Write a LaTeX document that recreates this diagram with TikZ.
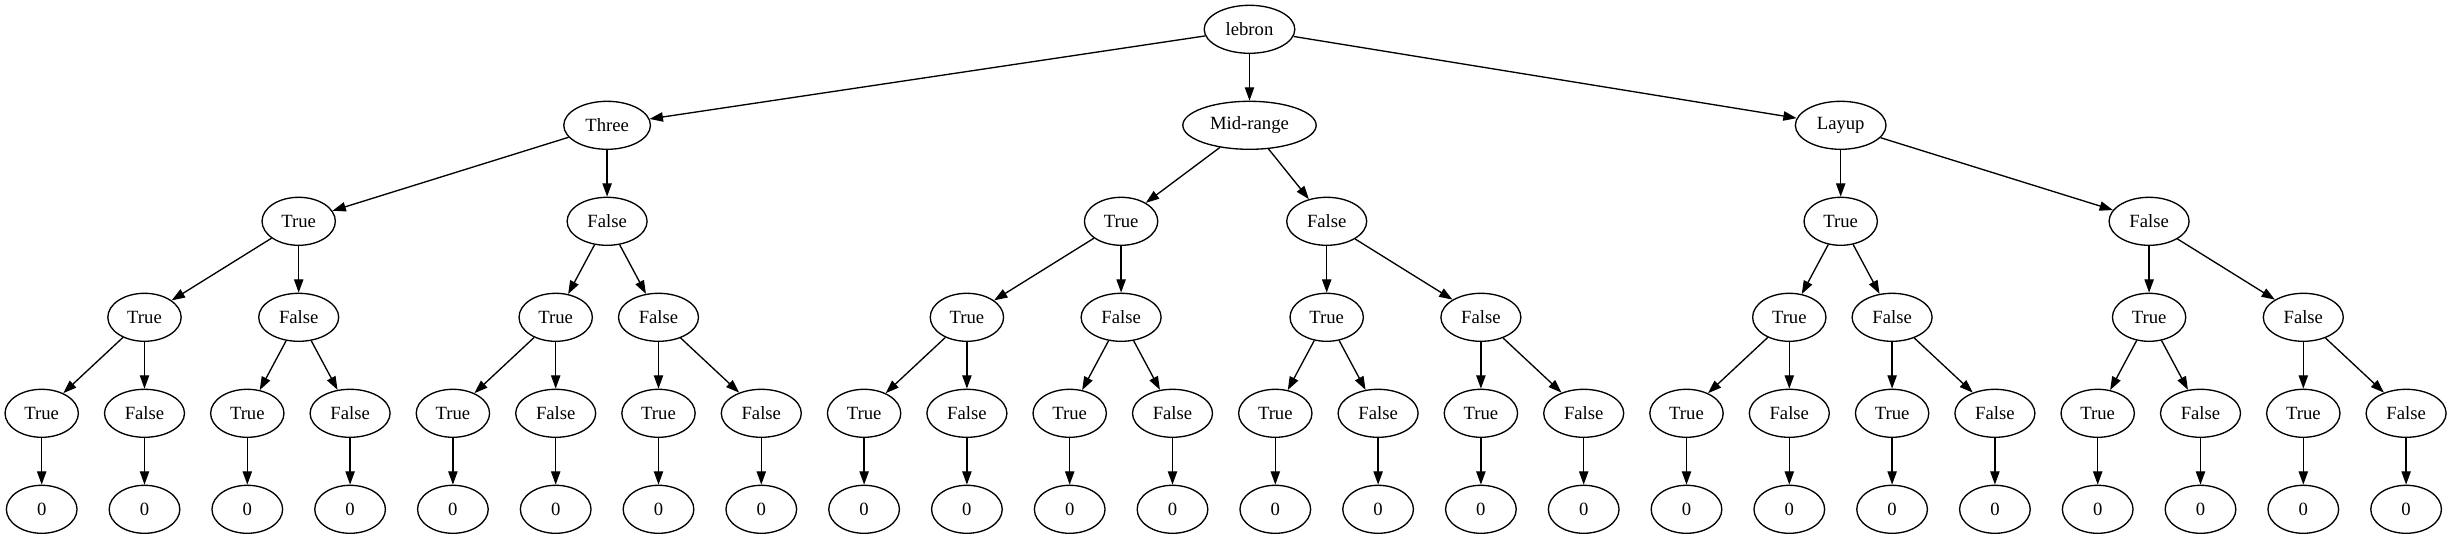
\documentclass[tikz,border=0pt]{standalone}
\usepackage{fontspec}
\setmainfont{Liberation Serif}
\usetikzlibrary{shapes.geometric,arrows.meta}
\begin{document}
\begin{tikzpicture}[x=0.75pt,y=-0.75pt,
  gv/.style={ellipse,draw,line width=1pt,inner sep=0pt,minimum height=36pt,font=\fontsize{14}{16}\selectfont},
  nleaf/.style={gv,minimum width=53pt},
  nTrue/.style={gv,minimum width=55pt},
  nFalse/.style={gv,minimum width=60pt},
  edge/.style={line width=1pt,-{Triangle[length=10pt,width=7pt]}}]
\useasboundingbox (0,0) rectangle (2450,539);
% root and first level
\node[gv,minimum width=68pt] (r) at (1249.5,29.3) {lebron};
\node[gv,minimum width=65pt] (a0) at ({41.7+102.8*5.5},125.3) {Three};
\node[gv,minimum width=100pt] (a1) at (1249.5,125.3) {Mid-range};
\node[gv,minimum width=68pt] (a2) at ({41.7+102.8*17.5},125.3) {Layup};
\foreach \m in {0,1,2} {\draw[edge] (r) -- (a\m);}
% level 2
\foreach \k/\p/\t in {0/2.5/True,1/5.5/False,2/10.5/True,3/12.5/False,4/17.5/True,5/20.5/False}{
  \node[n\t] (b\k) at ({41.7+102.8*\p},221.3) {\t};
}
% level 3
\foreach \k/\p/\t in {0/1/True,1/2.5/False,2/5/True,3/6/False,4/9/True,5/10.5/False,6/12.5/True,7/14/False,8/17/True,9/18/False,10/20.5/True,11/22/False}{
  \node[n\t] (c\k) at ({41.7+102.8*\p},317.3) {\t};
}
% level 4 and leaves
\foreach \i [evaluate=\i as \j using int(\i+1)] in {0,2,...,22}{
  \node[nTrue] (d\i) at ({41.7+102.8*\i},413.3) {True};
  \node[nFalse] (d\j) at ({41.7+102.8*\j},413.3) {False};
  \node[nleaf] (z\i) at ({41.7+102.8*\i},509.3) {0};
  \node[nleaf] (z\j) at ({41.7+102.8*\j},509.3) {0};
}
% edges
\foreach \m [evaluate=\m as \ba using int(2*\m), evaluate=\m as \bb using int(2*\m+1)] in {0,1,2}{
  \draw[edge] (a\m) -- (b\ba);
  \draw[edge] (a\m) -- (b\bb);
}
\foreach \k [evaluate=\k as \ca using int(2*\k), evaluate=\k as \cb using int(2*\k+1)] in {0,...,5}{
  \draw[edge] (b\k) -- (c\ca);
  \draw[edge] (b\k) -- (c\cb);
}
\foreach \k [evaluate=\k as \da using int(2*\k), evaluate=\k as \db using int(2*\k+1)] in {0,...,11}{
  \draw[edge] (c\k) -- (d\da);
  \draw[edge] (c\k) -- (d\db);
}
\foreach \i in {0,...,23}{
  \draw[edge] (d\i) -- (z\i);
}
\end{tikzpicture}
\end{document}
